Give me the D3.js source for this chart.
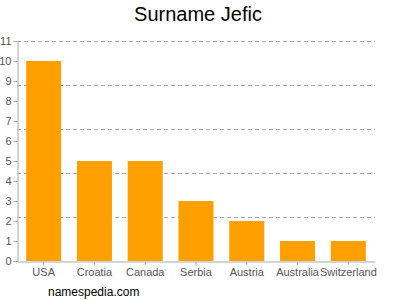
<!DOCTYPE html>
<html lang="en">
<head>
    <meta charset="utf-8">
    <title>Surname Jefic</title>
    <script src="https://d3js.org/d3.v7.min.js"></script>
    <style>
        body { margin: 0; background: #fff; }
        text { font-family: Arial, "Liberation Sans", sans-serif; }
    </style>
</head>
<body>
<div id="chart"></div>
<script>
    const countries = ["USA", "Croatia", "Canada", "Serbia", "Austria", "Australia", "Switzerland"];
    const counts = [10, 5, 5, 3, 2, 1, 1];
    const yTicks = [0, 1, 2, 3, 4, 5, 6, 7, 8, 9, 10, 11];
    const gridLines = [2.2, 4.4, 6.6, 8.8, 11];

    const width = 400, height = 300;
    const margin = {top: 41, right: 25, bottom: 39, left: 17};

    const svg = d3.select("#chart").append("svg")
        .attr("width", width)
        .attr("height", height);

    const x = d3.scaleBand()
        .domain(countries)
        .range([margin.left, width - margin.right])
        .paddingInner(0.31)
        .paddingOuter(0.18);

    const y = d3.scaleLinear()
        .domain([0, 11])
        .range([height - margin.bottom, margin.top]);

    // dashed grid
    svg.append("g")
        .selectAll("line")
        .data(gridLines)
        .join("line")
        .attr("x1", margin.left)
        .attr("x2", width - margin.right)
        .attr("y1", d => Math.round(y(d)) + 0.5)
        .attr("y2", d => Math.round(y(d)) + 0.5)
        .attr("stroke", "#aaa")
        .attr("stroke-dasharray", "4,3");

    svg.append("g")
        .selectAll("rect")
        .data(counts)
        .join("rect")
        .attr("x", (d, i) => x(countries[i]))
        .attr("width", x.bandwidth())
        .attr("y", d => y(d))
        .attr("height", d => y(0) - y(d))
        .attr("fill", "#ffa000");

    const yAxis = svg.append("g")
        .attr("transform", `translate(${margin.left + 0.5},0)`)
        .call(d3.axisLeft(y).tickValues(yTicks).tickSize(4).tickPadding(2).tickFormat(d3.format("d")));
    yAxis.selectAll("text").attr("fill", "#555").style("font-size", "11px");
    yAxis.selectAll("line").attr("stroke", "#aaa");
    yAxis.select(".domain").attr("stroke", "#aaa");

    const xAxis = svg.append("g")
        .attr("transform", `translate(0,${y(0) + 0.5})`)
        .call(d3.axisBottom(x).tickSize(4).tickPadding(3).tickSizeOuter(0));
    xAxis.selectAll("text").attr("fill", "#555").style("font-size", "11px");
    xAxis.selectAll("line").attr("stroke", "#aaa");
    xAxis.select(".domain").attr("stroke", "#aaa");

    svg.append("text")
        .attr("x", 198)
        .attr("y", 21)
        .attr("text-anchor", "middle")
        .style("font-size", "20px")
        .attr("fill", "#000")
        .text("Surname Jefic");

    svg.append("text")
        .attr("x", 48)
        .attr("y", 296)
        .style("font-size", "12px")
        .attr("fill", "#000")
        .text("namespedia.com");
</script>
</body>
</html>
